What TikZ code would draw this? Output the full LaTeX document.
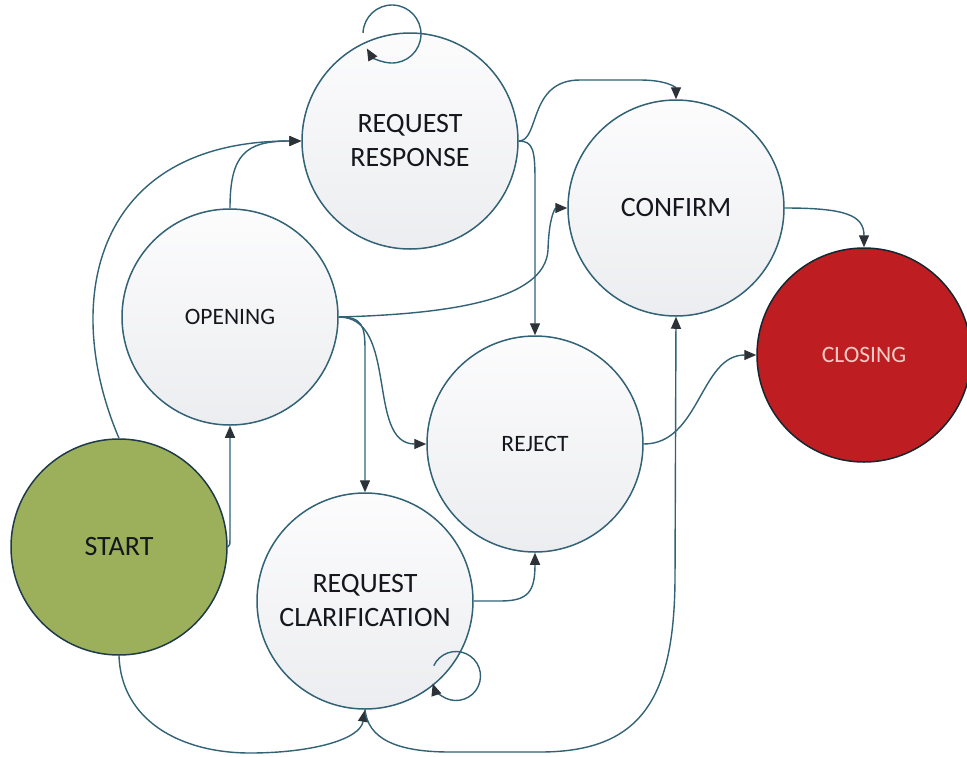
\documentclass[tikz,border=0pt]{standalone}
\usepackage{fontspec}
\setmainfont{Carlito}
\usetikzlibrary{arrows.meta}

\definecolor{edgeteal}{RGB}{50,98,118}
\definecolor{tipgray}{RGB}{45,50,56}
\definecolor{startgreen}{RGB}{156,176,92}
\definecolor{closered}{RGB}{190,30,34}
\definecolor{closetext}{RGB}{242,204,196}
\definecolor{labelink}{RGB}{20,24,30}
\definecolor{stateTop}{RGB}{252,252,253}
\definecolor{stateBottom}{RGB}{236,237,240}

\tikzset{
  basestate/.style={circle, draw=edgeteal, line width=1.5pt, minimum size=216pt,
    inner sep=0pt, align=center, text=labelink},
  graystate/.style={basestate, top color=stateTop, bottom color=stateBottom},
  startstate/.style={basestate, fill=startgreen, draw=edgeteal!60!black},
  closestate/.style={basestate, fill=closered, draw=edgeteal!40!black, text=closetext},
  bigtext/.style={font=\fontsize{28}{34}\selectfont},
  smalltext/.style={font=\fontsize{23.5}{28}\selectfont},
  arr/.style={draw=edgeteal, line width=1.4pt,
    -{Triangle[length=12pt,width=10pt,color=tipgray]}}
}

\begin{document}
\begin{tikzpicture}[x=1pt,y=1pt]
  \fill[white] (0,0) rectangle (967,-756);
  \useasboundingbox (0,0) rectangle (967,-756);

  % states
  \node[startstate, bigtext] (start) at (119,-547) {START};
  \node[graystate, smalltext] (opening) at (230,-317) {OPENING};
  \node[graystate, bigtext] (rr) at (410,-141) {REQUEST\\RESPONSE};
  \node[graystate, bigtext] (confirm) at (676,-208) {CONFIRM};
  \node[graystate, smalltext] (reject) at (535,-444) {REJECT};
  \node[graystate, bigtext] (rc) at (365,-601) {REQUEST\\CLARIFICATION};
  \node[closestate, smalltext, minimum size=214pt] (closing) at (864,-355) {CLOSING};

  % loop centres
  \coordinate (rrloop) at (392,-34);
  \coordinate (rcloop) at (456,-676);

  % transitions
  \draw[arr] (start.east) .. controls (230,-546) .. (230,-532) -- (opening.south);
  \draw[arr] (start.north) .. controls (60,-300) and (95,-141) .. (rr.west);
  \draw[arr] (opening.north) .. controls (230,-155) and (245,-141) .. (rr.west);
  \draw[arr] (rr.east) .. controls (540,-141) and (528,-80) .. (580,-80) -- (640,-80)
             .. controls (668,-80) and (676,-88) .. (confirm.north);
  \draw[arr] (rr.east) .. controls (533,-141) and (535,-150) .. (535,-180) -- (reject.north);
  \draw[arr] (opening.east) .. controls (450,-314) and (545,-300) .. (548,-250)
             .. controls (549,-214) and (556,-208) .. (confirm.west);
  \draw[arr] (opening.east) to[out=0,in=180] (reject.west);
  \draw[arr] (opening.east) .. controls (362,-317) and (365,-325) .. (365,-350) -- (rc.north);
  \draw[arr] (rc.east) -- (500,-601) .. controls (528,-601) and (535,-592) .. (reject.south);
  \draw[arr] (reject.east) to[out=0,in=180] (closing.west);
  \draw[arr] (confirm.east) .. controls (845,-208) and (864,-215) .. (closing.north);
  \draw[arr] (start.south) .. controls (121,-720) and (180,-753) .. (250,-753)
             .. controls (310,-753) and (360,-740) .. (rc.south);
  \draw[arr] (rc.south) .. controls (368,-738) and (395,-752) .. (450,-752) -- (540,-752)
             .. controls (640,-752) and (674,-700) .. (675,-580) -- (confirm.south);

  % self loops
  \draw[arr] ([shift={(178:29)}]rrloop) arc[start angle=178, end angle=-150, radius=29];
  \draw[arr] ([shift={(155:24.5)}]rcloop) arc[start angle=155, end angle=-162, radius=24.5];
\end{tikzpicture}
\end{document}
